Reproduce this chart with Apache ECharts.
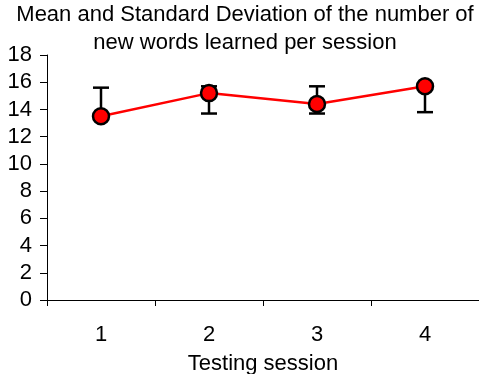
<!DOCTYPE html>
<html>
<head>
<meta charset="utf-8">
<script src="https://cdn.jsdelivr.net/npm/echarts@6/dist/echarts.min.js"></script>
<style>
html,body{margin:0;padding:0;background:#fff;}
#chart{width:479px;height:374px;}
</style>
</head>
<body>
<div id="chart"></div>
<script>
const categories = ['1', '2', '3', '4'];
const means = [13.5, 15.2, 14.4, 15.7];
const errLow = [13.5, 13.7, 13.7, 13.8];
const errHigh = [15.6, 15.7, 15.7, 15.7];
const yTicks = [0, 2, 4, 6, 8, 10, 12, 14, 16, 18];

const FONT = '"Liberation Sans", Arial, sans-serif';
const chart = echarts.init(document.getElementById('chart'));

const errData = categories.map((c, i) => [i, errLow[i], errHigh[i]]);

chart.setOption({
  animation: false,
  backgroundColor: '#ffffff',
  title: {
    text: 'Mean and Standard Deviation of the number of\nnew words learned per session',
    left: 245,
    top: 0,
    padding: [1, 0, 0, 0],
    textAlign: 'center',
    textStyle: { fontFamily: FONT, fontSize: 22, fontWeight: 'normal', color: '#000', lineHeight: 28 }
  },
  grid: { left: 47, right: 0, top: 55, bottom: 74, containLabel: false, outerBoundsMode: 'none' },
  xAxis: {
    type: 'category',
    data: categories,
    boundaryGap: true,
    name: 'Testing session',
    nameLocation: 'middle',
    nameGap: 53,
    nameTextStyle: { fontFamily: FONT, fontSize: 22, color: '#000' },
    axisLine: { show: true, lineStyle: { color: '#000', width: 1 } },
    axisTick: { show: true, length: 6, lineStyle: { color: '#000' } },
    axisLabel: { fontFamily: FONT, fontSize: 22, color: '#000', margin: 24 },
    splitLine: { show: false }
  },
  yAxis: {
    type: 'value',
    min: yTicks[0],
    max: yTicks[yTicks.length - 1],
    interval: 2,
    axisLine: { show: true, lineStyle: { color: '#000', width: 1 } },
    axisTick: { show: true, length: 7, lineStyle: { color: '#000' } },
    axisLabel: { fontFamily: FONT, fontSize: 22, color: '#000', margin: 15 },
    splitLine: { show: false }
  },
  series: [
    {
      type: 'custom',
      z: 1,
      data: errData,
      renderItem: function (params, api) {
        const x = api.value(0);
        const lo = api.coord([x, api.value(1)]);
        const hi = api.coord([x, api.value(2)]);
        const half = 8;
        const style = { stroke: '#000', lineWidth: 2.5, fill: null };
        return {
          type: 'group',
          children: [
            { type: 'line', shape: { x1: lo[0], y1: lo[1], x2: hi[0], y2: hi[1] }, style: style },
            { type: 'line', shape: { x1: hi[0] - half, y1: hi[1], x2: hi[0] + half, y2: hi[1] }, style: style },
            { type: 'line', shape: { x1: lo[0] - half, y1: lo[1], x2: lo[0] + half, y2: lo[1] }, style: style }
          ]
        };
      }
    },
    {
      type: 'line',
      z: 5,
      data: means,
      symbol: 'circle',
      symbolSize: 16,
      lineStyle: { color: '#ff0000', width: 2.5 },
      itemStyle: { color: '#ff0000', borderColor: '#000', borderWidth: 2.5 }
    }
  ]
});
</script>
</body>
</html>
